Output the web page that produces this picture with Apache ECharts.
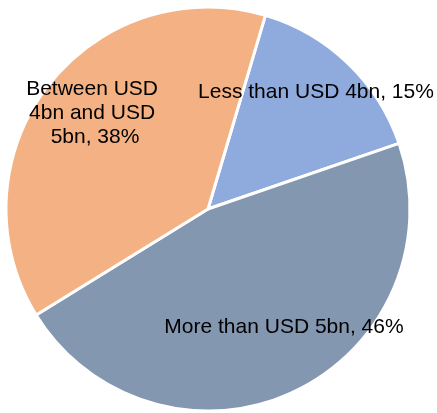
<!DOCTYPE html>
<html>
<head>
<meta charset="utf-8">
<style>
  html, body { margin: 0; padding: 0; background: #ffffff; }
  #chart { width: 437px; height: 413px; }
</style>
<script src="https://cdn.jsdelivr.net/npm/echarts@6/dist/echarts.min.js"></script>
</head>
<body>
<div id="chart"></div>
<script>
// Share of deals by size bracket
const categories = ['Less than USD 4bn', 'More than USD 5bn', 'Between USD 4bn and USD 5bn'];
const shares = [15, 46, 38];
const colors = ['#8FAADC', '#8497B0', '#F4B183'];

// Label anchor points (centre of each text block)
const labelSpots = [[316, 92], [284, 327], [95, 113]];

const chart = echarts.init(document.getElementById('chart'), null, { renderer: 'canvas' });

chart.setOption({
  animation: false,
  series: [{
    type: 'pie',
    center: [208, 209],
    radius: [0, 202],
    startAngle: 73.5,
    clockwise: true,
    avoidLabelOverlap: false,
    itemStyle: { borderColor: '#ffffff', borderWidth: 3 },
    label: {
      show: true,
      position: 'inside',
      color: '#000000',
      fontFamily: 'Liberation Sans, Arial, sans-serif',
      fontSize: 21,
      lineHeight: 24,
      align: 'center',
      formatter: p => p.name + ', ' + p.value + '%'
    },
    labelLine: { show: false },
    labelLayout: p => ({
      x: labelSpots[p.dataIndex][0],
      y: labelSpots[p.dataIndex][1],
      align: 'center',
      verticalAlign: 'middle'
    }),
    emphasis: { disabled: true },
    data: categories.map((name, i) => ({
      name: name,
      value: shares[i],
      itemStyle: { color: colors[i] },
      label: i === 2 ? { width: 140, overflow: 'break' } : {}
    }))
  }]
});
</script>
</body>
</html>
